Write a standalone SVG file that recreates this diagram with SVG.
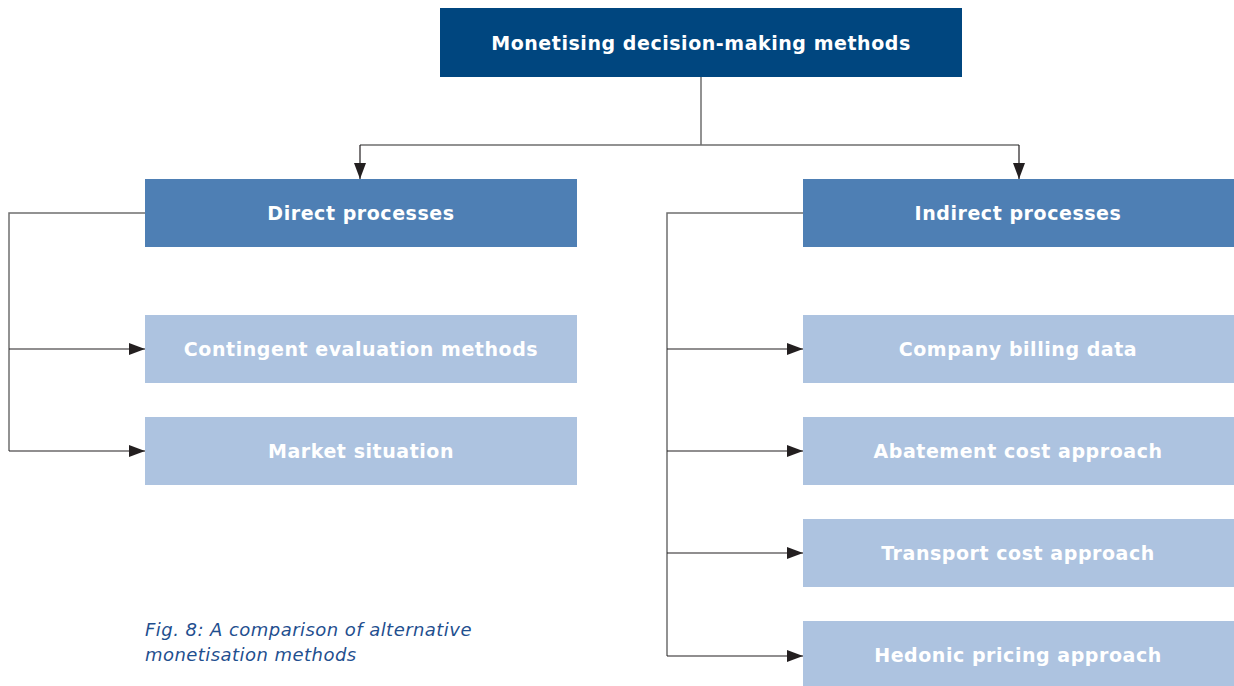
<svg xmlns="http://www.w3.org/2000/svg" width="1234" height="686" viewBox="0 0 1234 686">
<defs>
<marker id="arr" markerWidth="16" markerHeight="12" refX="16" refY="6" orient="auto" markerUnits="userSpaceOnUse">
<path d="M0,0 L16,6 L0,12 Z" fill="#231f20"/>
</marker>
<style>
.t{font-family:"DejaVu Sans",Verdana,sans-serif;font-weight:bold;font-size:19px;letter-spacing:0.55px;fill:#ffffff;text-anchor:middle;dominant-baseline:central}
.top{fill:#00467f}
.mid{fill:#4e7fb4}
.leaf{fill:#adc3e0}
.ln{fill:none;stroke:#6f6f6f;stroke-width:1.5}
.ar{fill:none;stroke:#231f20;stroke-width:1.2;marker-end:url(#arr)}
.cap{font-family:"DejaVu Sans",Verdana,sans-serif;font-style:italic;font-size:18px;letter-spacing:0.45px;fill:#1f4f8f}
</style>
</defs>
<rect width="1234" height="686" fill="#ffffff"/>
<g id="connectors">
<path class="ln" d="M701,77 V145 M360,145 H1019"/>
<path class="ar" d="M360,145 V179"/>
<path class="ar" d="M1019,145 V179"/>
<path class="ln" d="M145,213 H9 V451"/>
<path class="ar" d="M9,349 H145"/>
<path class="ar" d="M9,451 H145"/>
<path class="ln" d="M803,213 H667 V656"/>
<path class="ar" d="M667,349 H803"/>
<path class="ar" d="M667,451 H803"/>
<path class="ar" d="M667,553 H803"/>
<path class="ar" d="M667,656 H803"/>
</g>
<g id="root"><rect class="top" x="440" y="8" width="522" height="69"/><text class="t" x="701" y="43">Monetising decision-making methods</text></g>
<g id="direct"><rect class="mid" x="145" y="179" width="432" height="68"/><text class="t" x="361" y="213">Direct processes</text></g>
<g id="indirect"><rect class="mid" x="803" y="179" width="431" height="68"/><text class="t" x="1018" y="213">Indirect processes</text></g>
<g id="contingent"><rect class="leaf" x="145" y="315" width="432" height="68"/><text class="t" x="361" y="349">Contingent evaluation methods</text></g>
<g id="market"><rect class="leaf" x="145" y="417" width="432" height="68"/><text class="t" x="361" y="451">Market situation</text></g>
<g id="billing"><rect class="leaf" x="803" y="315" width="431" height="68"/><text class="t" x="1018" y="349">Company billing data</text></g>
<g id="abatement"><rect class="leaf" x="803" y="417" width="431" height="68"/><text class="t" x="1018" y="451">Abatement cost approach</text></g>
<g id="transport"><rect class="leaf" x="803" y="519" width="431" height="68"/><text class="t" x="1018" y="553">Transport cost approach</text></g>
<g id="hedonic"><rect class="leaf" x="803" y="621" width="431" height="68"/><text class="t" x="1018" y="655">Hedonic pricing approach</text></g>
<g id="caption"><text class="cap" x="145" y="636">Fig. 8: A comparison of alternative</text><text class="cap" x="145" y="661">monetisation methods</text></g>
</svg>
